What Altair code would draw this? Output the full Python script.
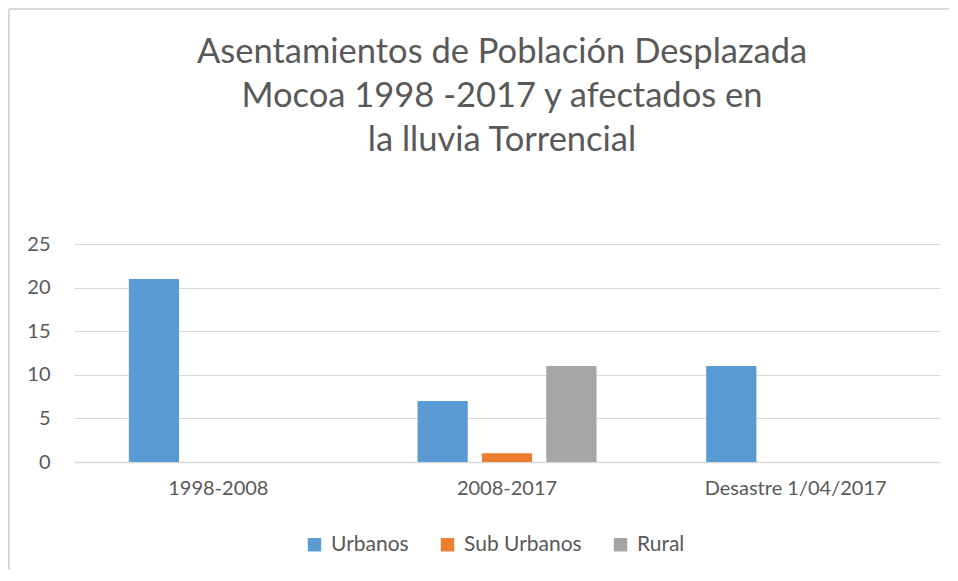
import altair as alt
import pandas as pd

categories = ["1998-2008", "2008-2017", "Desastre 1/04/2017"]
series = ["Urbanos", "Sub Urbanos", "Rural"]
urbanos = [21, 7, 11]
sub_urbanos = [0, 1, 0]
rural = [0, 11, 0]
colors = ["#5B9BD5", "#ED7D31", "#A5A5A5"]
title_lines = ["Asentamientos de Población Desplazada", "Mocoa 1998 -2017  y afectados en", "la lluvia Torrencial"]

rows = []
for name, vals in zip(series, [urbanos, sub_urbanos, rural]):
    for c, v in zip(categories, vals):
        rows.append({"Periodo": c, "Serie": name, "Valor": v})
df = pd.DataFrame(rows)

W, H = 866, 218
FONT = "Lato"
TXT = "#595959"

bars = alt.Chart(df).mark_bar().encode(
    x=alt.X("Periodo:N", sort=categories, title=None,
            scale=alt.Scale(paddingInner=0.38, paddingOuter=0.19),
            axis=alt.Axis(labelAngle=0, ticks=False, labelPadding=16, labelLimit=400,
                          labelFontSize=20, labelColor=TXT, labelFont=FONT,
                          domainColor="#d9d9d9", domainWidth=1.5)),
    xOffset=alt.XOffset("Serie:N", sort=series,
                        scale=alt.Scale(paddingInner=0.22, paddingOuter=0)),
    y=alt.Y("Valor:Q", title=None,
            scale=alt.Scale(domain=[0, 25]),
            axis=alt.Axis(values=[0, 5, 10, 15, 20, 25], ticks=False, domain=False,
                          labelPadding=24, labelFontSize=20, labelColor=TXT,
                          labelFont=FONT, gridColor="#d9d9d9", gridWidth=1.2)),
    color=alt.Color("Serie:N", sort=series,
                    scale=alt.Scale(domain=series, range=colors),
                    legend=alt.Legend(title=None, orient="none", direction="horizontal",
                                      legendX=230, legendY=290,
                                      symbolType="square", symbolSize=180,
                                      symbolStrokeWidth=0, labelFontSize=21,
                                      labelColor=TXT, labelFont=FONT,
                                      labelOffset=6, columnPadding=28)),
)

frame_top = alt.Chart(df).mark_rule(color="#d9d9d9", strokeWidth=1.5).encode(
    x=alt.value(-65), x2=alt.value(875), y=alt.value(-235))
frame_left = alt.Chart(df).mark_rule(color="#d9d9d9", strokeWidth=1.5).encode(
    x=alt.value(-65), y=alt.value(-235), y2=alt.value(326))

chart = alt.layer(frame_top, frame_left, bars).properties(
    width=W, height=H,
    padding=0,
    title=alt.TitleParams(title_lines, anchor="middle", frame="group",
                          fontSize=34.5, font=FONT, fontWeight="normal",
                          color=TXT, lineHeight=44, offset=-150, dx=-5),
).configure_view(stroke=None)

chart.save("out.html", embed_options={"renderer": "svg", "actions": False})
